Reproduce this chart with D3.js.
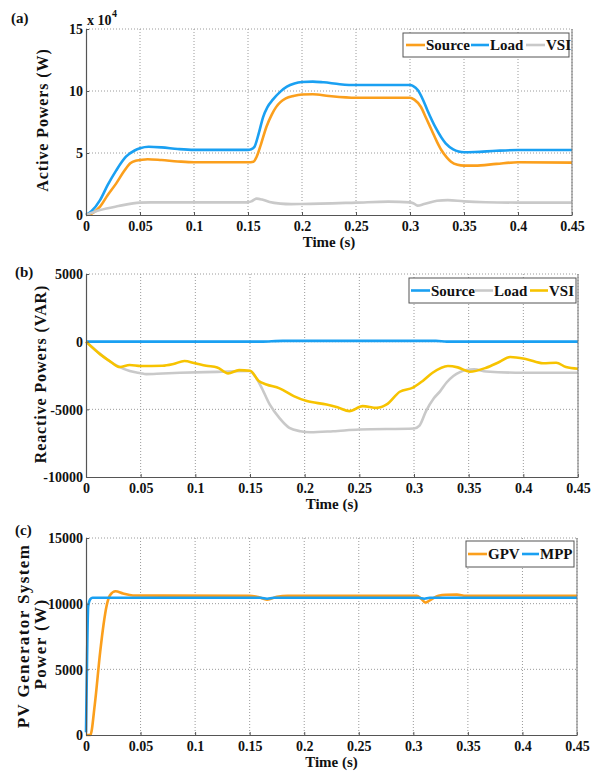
<!DOCTYPE html>
<html>
<head>
<meta charset="utf-8">
<script src="https://cdn.jsdelivr.net/npm/d3@7"></script>
<style>
  body { margin: 0; background: #fff; }
  svg text { font-family: "Liberation Serif", "Times New Roman", serif; font-weight: bold; fill: #111; }
</style>
</head>
<body>
<svg id="chart" width="601" height="773"></svg>
<script>
// time ticks shared by the three panels
const timeTicks = [0, 0.05, 0.1, 0.15, 0.2, 0.25, 0.3, 0.35, 0.4, 0.45];
const timeLabels = ["0", "0.05", "0.1", "0.15", "0.2", "0.25", "0.3", "0.35", "0.4", "0.45"];

// (a) active powers, in units of 10^4 W
const activeTicks = [0, 5, 10, 15];
const sourceActive = [[0,0],[0.005,0.1],[0.013,0.67],[0.02,1.6],[0.028,2.55],[0.035,3.5],[0.041,4.17],[0.046,4.38],[0.05,4.43],[0.057,4.5],[0.07,4.43],[0.085,4.32],[0.1,4.25],[0.15,4.25],[0.155,4.3],[0.158,4.7],[0.162,5.7],[0.167,7.1],[0.172,8.1],[0.176,8.7],[0.18,9.1],[0.185,9.4],[0.192,9.6],[0.2,9.72],[0.21,9.74],[0.225,9.6],[0.25,9.46],[0.3,9.46],[0.304,9.3],[0.31,8.73],[0.315,7.8],[0.32,6.85],[0.325,5.9],[0.329,5.24],[0.334,4.65],[0.338,4.3],[0.344,4.05],[0.35,3.98],[0.36,3.98],[0.38,4.12],[0.4,4.25],[0.45,4.22]];
const loadActive = [[0,0],[0.005,0.3],[0.013,1.2],[0.02,2.4],[0.028,3.6],[0.037,4.7],[0.045,5.2],[0.05,5.38],[0.058,5.5],[0.07,5.45],[0.085,5.32],[0.1,5.25],[0.15,5.25],[0.153,5.3],[0.156,5.5],[0.16,6.6],[0.164,7.9],[0.168,8.7],[0.173,9.3],[0.18,9.95],[0.186,10.35],[0.193,10.6],[0.2,10.72],[0.21,10.76],[0.22,10.7],[0.235,10.55],[0.25,10.48],[0.3,10.48],[0.303,10.4],[0.307,10.1],[0.312,9.3],[0.316,8.47],[0.324,7.0],[0.333,5.78],[0.34,5.3],[0.345,5.12],[0.35,5.06],[0.36,5.08],[0.38,5.18],[0.4,5.24],[0.45,5.24]];
const vsiActive = [[0,0],[0.013,0.4],[0.03,0.72],[0.05,1.0],[0.06,1.02],[0.15,1.02],[0.153,1.1],[0.158,1.32],[0.163,1.25],[0.17,1.05],[0.18,0.92],[0.19,0.88],[0.2,0.89],[0.25,1.0],[0.28,1.08],[0.3,1.02],[0.303,0.95],[0.307,0.76],[0.313,0.88],[0.325,1.15],[0.335,1.2],[0.35,1.1],[0.37,1.03],[0.4,1.0],[0.45,1.0]];

// (b) reactive powers, VAR
const reactiveTicks = [-10000, -5000, 0, 5000];
const sourceReactive = [[0,0],[0.16,0],[0.18,60],[0.32,60],[0.33,0],[0.45,0]];
const loadReactive = [[0,0],[0.01,-700],[0.02,-1350],[0.03,-1850],[0.04,-2170],[0.05,-2330],[0.055,-2400],[0.07,-2350],[0.086,-2300],[0.12,-2230],[0.15,-2170],[0.155,-2600],[0.16,-3300],[0.168,-4640],[0.177,-5650],[0.186,-6370],[0.196,-6615],[0.205,-6690],[0.226,-6615],[0.25,-6490],[0.3,-6415],[0.305,-6200],[0.311,-5130],[0.318,-4200],[0.324,-3650],[0.33,-3000],[0.336,-2540],[0.342,-2250],[0.348,-2100],[0.355,-2050],[0.366,-2200],[0.4,-2300],[0.45,-2300]];
const vsiReactive = [[0,0],[0.013,-940],[0.022,-1450],[0.031,-1875],[0.04,-1725],[0.05,-1800],[0.07,-1780],[0.08,-1650],[0.09,-1430],[0.1,-1600],[0.11,-1780],[0.12,-1900],[0.13,-2340],[0.14,-2100],[0.15,-2150],[0.158,-2900],[0.165,-3160],[0.177,-3450],[0.19,-4020],[0.202,-4390],[0.22,-4640],[0.23,-4850],[0.241,-5130],[0.253,-4760],[0.266,-4890],[0.275,-4640],[0.287,-3700],[0.299,-3400],[0.308,-2900],[0.317,-2300],[0.331,-1800],[0.34,-1900],[0.351,-2220],[0.366,-1925],[0.378,-1500],[0.388,-1130],[0.403,-1300],[0.418,-1600],[0.43,-1555],[0.439,-1875],[0.45,-2000]];

// (c) PV generator power, W
const pvTicks = [0, 5000, 10000, 15000];
const gpvPower = [[0,0],[0.004,0],[0.008,2280],[0.013,6330],[0.016,8360],[0.019,9880],[0.022,10640],[0.027,10940],[0.034,10770],[0.043,10620],[0.15,10600],[0.158,10500],[0.166,10310],[0.175,10520],[0.185,10600],[0.303,10600],[0.307,10400],[0.311,10080],[0.317,10350],[0.323,10600],[0.33,10680],[0.34,10690],[0.348,10600],[0.45,10600]];
const mppPower = [[0,200],[0.001,6000],[0.002,9800],[0.004,10350],[0.006,10450],[0.16,10450],[0.166,10380],[0.172,10450],[0.305,10450],[0.31,10380],[0.315,10450],[0.45,10450]];

const ORANGE = "#fb9f1c", BLUE = "#1aa0f2", GREY = "#c9c9c9", GOLD = "#f7c300";

const svg = d3.select("#chart");

function panel(cfg) {
  const x = d3.scaleLinear().domain([0, 0.45]).range([cfg.left, cfg.right]);
  const y = d3.scaleLinear().domain(cfg.yDomain).range([cfg.bottom, cfg.top]);
  const g = svg.append("g");

  // dotted grid
  g.selectAll(".vgrid").data(timeTicks.slice(1)).enter().append("line")
    .attr("x1", d => x(d)).attr("x2", d => x(d))
    .attr("y1", cfg.top).attr("y2", cfg.bottom)
    .attr("stroke", "#9a9a9a").attr("stroke-width", 1).attr("stroke-dasharray", "1,2");
  g.selectAll(".hgrid").data(cfg.yTicks.filter(d => d !== cfg.yDomain[0])).enter().append("line")
    .attr("x1", cfg.left).attr("x2", cfg.right)
    .attr("y1", d => y(d)).attr("y2", d => y(d))
    .attr("stroke", "#9a9a9a").attr("stroke-width", 1).attr("stroke-dasharray", "1,2");

  const line = d3.line().x(d => x(d[0])).y(d => y(d[1])).curve(d3.curveMonotoneX);
  cfg.series.forEach(s => {
    g.append("path").datum(s.data)
      .attr("d", line)
      .attr("fill", "none")
      .attr("stroke", s.color)
      .attr("stroke-width", 2.6)
      .attr("stroke-linejoin", "round");
  });

  // axes
  const xAxis = g.append("g").attr("transform", `translate(0,${cfg.bottom})`)
    .call(d3.axisBottom(x).tickValues(timeTicks).tickFormat((d, i) => timeLabels[i])
      .tickSizeInner(-3).tickSizeOuter(0).tickPadding(6));
  const yAxis = g.append("g").attr("transform", `translate(${cfg.left},0)`)
    .call(d3.axisLeft(y).tickValues(cfg.yTicks).tickFormat(d => String(d))
      .tickSizeInner(-3).tickSizeOuter(0).tickPadding(3));
  [xAxis, yAxis].forEach(a => {
    a.selectAll("text").attr("font-size", 14).attr("fill", "#111");
    a.select(".domain").attr("stroke", "#555").attr("stroke-width", 1.2);
    a.selectAll(".tick line").attr("stroke", "#555");
  });
  yAxis.selectAll("text").attr("dy", "0.35em");
  g.append("line").attr("x1", cfg.right).attr("x2", cfg.right)
    .attr("y1", cfg.top).attr("y2", cfg.bottom).attr("stroke", "#777").attr("stroke-width", 1);

  // labels
  g.append("text").attr("x", (cfg.left + cfg.right) / 2).attr("y", cfg.bottom + 32)
    .attr("text-anchor", "middle").attr("font-size", 15).text("Time (s)");
  g.append("text").attr("x", cfg.tagX).attr("y", cfg.tagY).attr("font-size", 15).text(cfg.tag);
  cfg.yLabel.forEach((t, i) => {
    g.append("text")
      .attr("transform", `translate(${cfg.yLabelX[i]},${cfg.yLabelY[i]}) rotate(-90)`)
      .attr("text-anchor", "middle").attr("font-size", cfg.yLabelSize)
      .attr("letter-spacing", cfg.yLabelSpacing)
      .text(t);
  });

  // legend
  const L = cfg.legend;
  const lg = g.append("g");
  lg.append("rect").attr("x", L.x).attr("y", L.y).attr("width", L.w).attr("height", L.h)
    .attr("fill", "#fff").attr("stroke", "#555").attr("stroke-width", 1);
  cfg.series.forEach((s, i) => {
    const e = L.items[i];
    lg.append("line").attr("x1", e[0]).attr("x2", e[1])
      .attr("y1", L.y + L.h / 2).attr("y2", L.y + L.h / 2)
      .attr("stroke", s.color).attr("stroke-width", 2.6);
    lg.append("text").attr("x", e[1] + 1).attr("y", L.y + L.h / 2).attr("dy", "0.35em")
      .attr("font-size", 15).text(s.name);
  });
  return { x, y, g };
}

const pa = panel({
  left: 86, right: 572, top: 29, bottom: 215,
  yDomain: [0, 15], yTicks: activeTicks,
  series: [
    { name: "Source", color: ORANGE, data: sourceActive },
    { name: "Load", color: BLUE, data: loadActive },
    { name: "VSI", color: GREY, data: vsiActive }
  ],
  tag: "(a)", tagX: 11, tagY: 23,
  yLabel: ["Active Powers (W)"], yLabelX: [48], yLabelY: [120], yLabelSize: 16, yLabelSpacing: 0.9,
  legend: { x: 403, y: 33, w: 166, h: 24, items: [[406, 425], [471, 489], [526, 545]] }
});
pa.g.append("text").attr("x", 87).attr("y", 25).attr("font-size", 14).text("x 10");
pa.g.append("text").attr("x", 112).attr("y", 17).attr("font-size", 10).text("4");

panel({
  left: 86, right: 578, top: 274, bottom: 477,
  yDomain: [-10000, 5000], yTicks: reactiveTicks,
  series: [
    { name: "Source", color: BLUE, data: sourceReactive },
    { name: "Load", color: GREY, data: loadReactive },
    { name: "VSI", color: GOLD, data: vsiReactive }
  ],
  tag: "(b)", tagX: 15, tagY: 277,
  yLabel: ["Reactive Powers (VAR)"], yLabelX: [46], yLabelY: [374], yLabelSize: 16, yLabelSpacing: 0.9,
  legend: { x: 409, y: 278, w: 167, h: 25, items: [[411, 430], [475, 493], [530, 548]] }
});

panel({
  left: 86, right: 577, top: 538, bottom: 735,
  yDomain: [0, 15000], yTicks: pvTicks,
  series: [
    { name: "GPV", color: ORANGE, data: gpvPower },
    { name: "MPP", color: BLUE, data: mppPower }
  ],
  tag: "(c)", tagX: 15, tagY: 535,
  yLabel: ["PV Generator System", "Power (W)"], yLabelX: [29, 46], yLabelY: [636, 644],
  yLabelSize: 17, yLabelSpacing: 1.4,
  legend: { x: 466, y: 541, w: 108, h: 26, items: [[468, 487], [522, 539]] }
});
</script>
</body>
</html>
